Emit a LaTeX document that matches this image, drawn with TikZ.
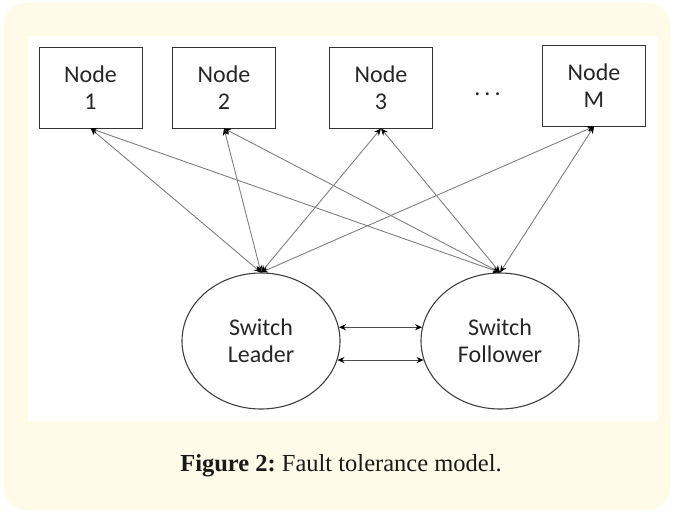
\documentclass[tikz,border=0pt]{standalone}
\usepackage{fontspec}
\setmainfont{Liberation Serif}
\newfontfamily\calib{Carlito}
\usetikzlibrary{shapes.geometric,arrows.meta}
\definecolor{cream}{HTML}{FFFBE8}
\definecolor{boxline}{HTML}{333333}
\definecolor{linkgray}{HTML}{808080}
\tikzset{
  nodebox/.style={draw=boxline, line width=0.9pt, fill=white, minimum width=103pt, minimum height=81pt, inner sep=0pt, align=center, font=\calib\fontsize{24}{27}\selectfont, text=black!85},
  switchell/.style={ellipse, draw=black!75, line width=1.1pt, minimum width=158pt, minimum height=136pt, inner sep=0pt, align=center, font=\calib\fontsize{24}{27}\selectfont, text=black!85},
  link/.style={draw=linkgray, line width=0.9pt, {Stealth[length=7pt,width=6pt,color=black]}-{Stealth[length=7pt,width=6pt,color=black]}},
  peer/.style={draw=black!70, line width=0.9pt, {Stealth[length=7pt,width=6pt,color=black]}-{Stealth[length=7pt,width=6pt,color=black]}}
}
\begin{document}
\begin{tikzpicture}[x=1pt,y=-1pt]
\useasboundingbox (0,0) rectangle (674,512);
\fill[white] (0,0) rectangle (674,512);
\fill[cream, rounded corners=22pt] (4,3) rectangle (670,510);
\fill[white] (28,36) rectangle (658,421);
\node[nodebox] (n1) at (90.5,87.5) {Node\\1};
\node[nodebox] (n2) at (224,87.5) {Node\\2};
\node[nodebox] (n3) at (381,87.5) {Node\\3};
\node[nodebox] (nm) at (594,85.5) {Node\\M};
\node[font=\calib\fontsize{24}{27}\selectfont, text=black!85, anchor=base, inner sep=0pt] (dots) at (487.5,95) {.\kern4pt.\kern4pt.};
\node[switchell] (lead) at (261,341) {Switch\\Leader};
\node[switchell] (foll) at (500,341) {Switch\\Follower};
\foreach \n in {n1,n2,n3,nm}{
  \draw[link] (\n.south) -- (lead.north);
  \draw[link] (\n.south) -- (foll.north);
}
\draw[peer] (lead.10) -- (foll.170);
\draw[peer] (lead.-14) -- (foll.-166);
\node[font=\fontsize{24.5}{28}\selectfont, text=black!90, anchor=base, inner sep=0pt] (cap) at (341,471) {\textbf{Figure 2:}~Fault tolerance model.};
\end{tikzpicture}
\end{document}
